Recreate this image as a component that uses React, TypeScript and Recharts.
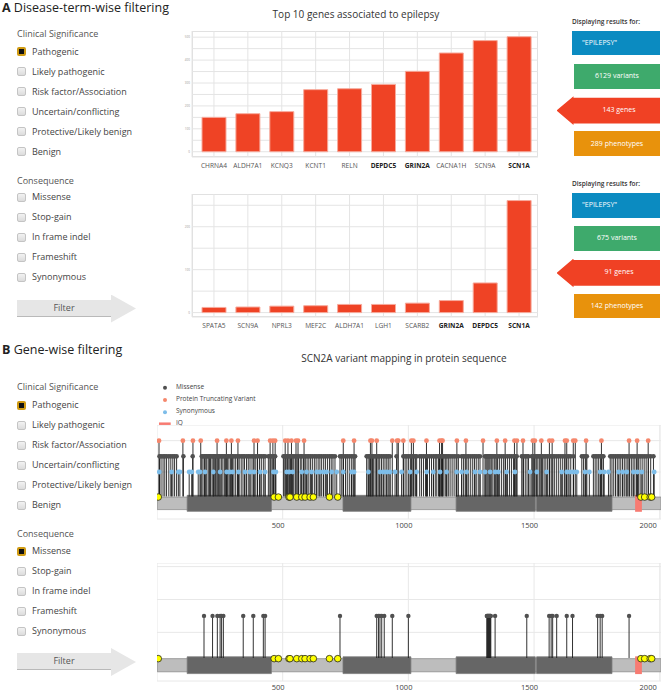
import React from 'react';
import {
  BarChart,
  Bar,
  ComposedChart,
  Scatter,
  ErrorBar,
  XAxis,
  YAxis,
  CartesianGrid,
  ReferenceArea,
} from 'recharts';

const FONT = '"Open Sans", "Noto Sans", sans-serif';

// ---- panel A: genes ----
const topGenes = ['CHRNA4', 'ALDH7A1', 'KCNQ3', 'KCNT1', 'RELN', 'DEPDC5', 'GRIN2A', 'CACNA1H', 'SCN9A', 'SCN1A'];
const topGeneCounts = [150, 166, 175, 271, 275, 294, 351, 431, 485, 502];
const filteredGenes = ['SPATA5', 'SCN9A', 'NPRL3', 'MEF2C', 'ALDH7A1', 'LGH1', 'SCARB2', 'GRIN2A', 'DEPDC5', 'SCN1A'];
const filteredGeneCounts = [12, 13, 15, 16, 19, 19, 22, 28, 69, 261];
const highlightedGenes = ['DEPDC5', 'GRIN2A', 'SCN1A'];
const topCountTicks = [0, 50, 100, 150, 200, 250, 300, 350, 400, 450, 500];
const filteredCountTicks = [0, 50, 100, 150, 200, 250];

const searchTerm = '"EPILEPSY"';
const variantTotals = [6129, 675];
const geneTotals = [143, 91];
const phenotypeTotals = [289, 142];

const clinicalSignificance = ['Pathogenic', 'Likely pathogenic', 'Risk factor/Association', 'Uncertain/conflicting', 'Protective/Likely benign', 'Benign'];
const consequences = ['Missense', 'Stop-gain', 'In frame indel', 'Frameshift', 'Synonymous'];

// ---- panel B: SCN2A protein ----
const proteinLength = 2005;
const positionTicks = [500, 1000, 1500, 2000];
const domainStarts = [120, 740, 1190, 1510];
const domainEnds = [455, 1010, 1505, 1810];
const iqMotif = [1902, 1929];
const legendLabels = ['Missense', 'Protein Truncating Variant', 'Synonymous', 'IQ'];

const missenseSites = [
  10, 16, 24, 31, 38, 47, 55, 63, 70, 78, 105, 142,
  178, 183, 189, 194, 198, 204, 209, 213, 219, 224, 228, 233, 239, 245, 250, 256, 262, 268, 273, 280,
  286, 293, 300, 306, 313, 320, 327, 335, 342, 348, 356, 363, 370, 378, 385, 393, 400, 408, 415, 423, 430,
  443, 450, 457, 464, 470,
  503, 509, 514, 520, 526, 531, 538, 544, 550, 557, 563, 570, 576, 583, 590, 597, 604, 611, 618, 626,
  633, 641, 648, 655, 663, 670, 678, 686, 693, 700, 708,
  728, 735, 742, 750, 757, 765, 773, 780, 788,
  834, 840, 846, 851, 857, 862, 868, 874, 880, 886, 893, 900, 907, 914, 920, 927, 953,
  980, 987, 994, 1001, 1008, 1015, 1022, 1028, 1033,
  1045, 1052, 1060, 1068, 1076, 1084, 1092, 1100, 1107, 1113,
  1120, 1125, 1130, 1136, 1141, 1147, 1153, 1159, 1166, 1174, 1182, 1190, 1199,
  1212, 1219, 1226, 1233, 1240, 1248, 1256, 1263, 1270, 1278, 1285,
  1305, 1309, 1313, 1317, 1321, 1325, 1330, 1336, 1342, 1348, 1355, 1362, 1370, 1378, 1386, 1394, 1402,
  1410, 1418, 1425, 1431, 1451, 1458, 1465, 1472, 1478,
  1491, 1497, 1503, 1509, 1515, 1521, 1527, 1534, 1540, 1547, 1554, 1561, 1568, 1575, 1582, 1590, 1598,
  1606, 1614, 1622, 1630, 1638, 1646, 1657, 1690, 1697, 1704, 1710,
  1736, 1743, 1750, 1757, 1764, 1770, 1776,
  1803, 1810, 1817, 1824, 1831, 1838, 1845, 1852, 1859, 1866, 1873, 1880, 1887, 1894, 1901, 1908, 1915,
  1922, 1930, 1938, 1946, 1955, 1964, 1975,
];
const truncatingSites = [
  8, 103, 143, 174, 239, 276, 296, 322, 386, 400, 450, 461, 470, 510, 521, 535, 553, 561, 585, 741, 784,
  849, 855, 874, 936, 955, 960, 980, 1012, 1020, 1072, 1124, 1132, 1136, 1193, 1229, 1297, 1352, 1385,
  1422, 1432, 1456, 1495, 1503, 1529, 1561, 1572, 1623, 1630, 1656, 1664, 1707, 1768, 1878, 1910, 1954,
];
const synonymousSites = [
  9, 58, 85, 91, 128, 138, 164, 171, 191, 224, 251, 277, 290, 301, 324, 350, 370, 386, 410, 430, 463, 473,
  516, 526, 540, 576, 595, 615, 635, 648, 662, 675, 695, 715, 741, 774, 784, 841, 887, 900, 914, 927, 947,
  973, 1007, 1033, 1073, 1099, 1126, 1152, 1192, 1212, 1232, 1265, 1285, 1305, 1325, 1345, 1358, 1391,
  1424, 1484, 1511, 1550, 1610, 1630, 1643, 1657, 1670, 1703, 1720, 1763, 1779, 1796, 1836, 1853, 1869,
  1895, 1911, 1929, 1978,
];
const markedSites = [5, 466, 483, 525, 529, 556, 576, 589, 609, 622, 686, 719, 1925, 1940, 1962, 1968];
const filteredMissenseSites = [
  187, 221, 240, 251, 257, 264, 343, 383, 423, 430, 728, 874, 881, 887, 894, 904, 936, 1000,
  1312, 1314, 1316, 1318, 1320, 1322, 1324, 1326, 1328, 1345, 1471, 1560, 1568, 1574, 1590, 1630, 1653,
  1753, 1763, 1771, 1878,
];

const RED = '#ef4325';
const MISSENSE = '#505050';
const TRUNCATING = '#f5876c';
const SYNONYMOUS = '#7dbde9';
const IQ = '#f77b72';

// text placed by its visual centre
const Txt = ({ x, y, size = 9, color = '#444', weight = 400, center = false, children }: any) => (
  <div
    style={{
      position: 'absolute',
      left: x,
      top: y - size * 0.58,
      fontSize: size,
      lineHeight: `${size}px`,
      color,
      fontWeight: weight,
      whiteSpace: 'nowrap',
      transform: center ? 'translateX(-50%)' : undefined,
    }}
  >
    {children}
  </div>
);

const CheckBox = ({ y, checked }: { y: number; checked: boolean }) => (
  <div
    style={{
      position: 'absolute',
      left: 17,
      top: y - 4.5,
      width: 9,
      height: 9,
      boxSizing: 'border-box',
      borderRadius: 2,
      border: checked ? '2px solid #cf9a12' : '1px solid #c4c4c4',
      background: checked ? '#111' : 'linear-gradient(#f2f2f2, #dcdcdc)',
    }}
  />
);

const FilterPanel = ({ top, checked }: { top: number; checked: string[] }) => (
  <>
    <Txt x={17} y={top} color="#555">Clinical Significance</Txt>
    {clinicalSignificance.map((label, i) => (
      <React.Fragment key={label}>
        <CheckBox y={top + 17.6 + i * 20} checked={checked.includes(label)} />
        <Txt x={32} y={top + 17.6 + i * 20}>{label}</Txt>
      </React.Fragment>
    ))}
    <Txt x={17} y={top + 147} color="#555">Consequence</Txt>
    {consequences.map((label, i) => (
      <React.Fragment key={label}>
        <CheckBox y={top + 163.4 + i * 20} checked={checked.includes(label)} />
        <Txt x={32} y={top + 163.4 + i * 20}>{label}</Txt>
      </React.Fragment>
    ))}
    <div
      style={{
        position: 'absolute',
        left: 17,
        top: top + 265.5,
        width: 94,
        height: 17,
        background: '#e6e6e6',
        borderBottom: '1.5px solid #b9b9b9',
        boxSizing: 'border-box',
      }}
    />
    <div
      style={{
        position: 'absolute',
        left: 111,
        top: top + 260.3,
        width: 25,
        height: 28,
        background: '#e6e6e6',
        clipPath: 'polygon(0 0, 100% 50%, 0 100%)',
      }}
    />
    <Txt x={64} y={top + 273.8} color="#555" center>Filter</Txt>
  </>
);

const ResultBoxes = ({ top, idx }: { top: number; idx: number }) => (
  <>
    <Txt x={572} y={top} size={6.5} weight={600} color="#333">Displaying results for:</Txt>
    <div style={{ position: 'absolute', left: 572, top: top + 8, width: 88, height: 24.5, background: '#0b8bc1' }} />
    <Txt x={582} y={top + 20.2} size={7} color="#fff">{searchTerm}</Txt>
    <div style={{ position: 'absolute', left: 573.7, top: top + 41, width: 86.3, height: 25, background: '#3eaa6c' }} />
    <Txt x={617} y={top + 53.5} size={7} color="#fff" center>{variantTotals[idx]} variants</Txt>
    <div
      style={{
        position: 'absolute',
        left: 556.5,
        top: top + 73.6,
        width: 103.5,
        height: 28.6,
        background: '#f04124',
        clipPath: 'polygon(0 50%, 17px 0, 17px 1.4px, 100% 1.4px, 100% 27.2px, 17px 27.2px, 17px 100%)',
      }}
    />
    <Txt x={619} y={top + 87.2} size={7} color="#fff" center>{geneTotals[idx]} genes</Txt>
    <div style={{ position: 'absolute', left: 573.7, top: top + 108.6, width: 86.3, height: 24.6, background: '#e8920c' }} />
    <Txt x={617} y={top + 121} size={7} color="#fff" center>{phenotypeTotals[idx]} phenotypes</Txt>
  </>
);

const GeneTick = ({ x, y, payload }: any) => (
  <text
    x={x}
    y={y + 11}
    textAnchor="middle"
    fontSize={6.6}
    fontFamily={FONT}
    fill={highlightedGenes.includes(payload.value) ? '#222' : '#555'}
    fontWeight={highlightedGenes.includes(payload.value) ? 700 : 400}
  >
    {payload.value}
  </text>
);

const CountTick = ({ x, y, payload }: any) =>
  payload.value % 100 === 0 ? (
    <text x={x - 2} y={y + 1} textAnchor="end" fontSize={3} fill="#999" fontFamily={FONT}>
      {payload.value}
    </text>
  ) : (
    <g />
  );

const GeneBarChart = ({ genes, counts, domain, ticks, height }: any) => {
  const data = genes.map((gene: string, i: number) => ({ gene, count: counts[i] }));
  return (
    <BarChart width={354} height={height} data={data} margin={{ top: 0, right: 0, bottom: 0, left: 0 }}>
      <CartesianGrid stroke="#e4e4e4" strokeWidth={1} />
      <XAxis
        dataKey="gene"
        axisLine={false}
        tickLine={false}
        tickSize={0}
        tickMargin={0}
        interval={0}
        height={18}
        padding={{ left: 5, right: 2 }}
        tick={<GeneTick />}
      />
      <YAxis
        type="number"
        domain={domain}
        ticks={ticks}
        interval={0}
        width={8}
        axisLine={false}
        tickLine={false}
        tickSize={0}
        tickMargin={0}
        allowDataOverflow
        tick={<CountTick />}
      />
      <Bar dataKey="count" fill={RED} stroke="#f7aa9c" strokeWidth={1} barSize={24} isAnimationActive={false} />
    </BarChart>
  );
};

const PositionTick = ({ x, y, payload }: any) => {
  const last = payload.value === 2000;
  return (
    <text
      x={last ? x - 3 : x - 4.5}
      y={y + 9}
      textAnchor={last ? 'end' : 'middle'}
      fontSize={7.5}
      fill="#444"
      fontFamily={FONT}
    >
      {payload.value}
    </text>
  );
};

const dot = (color: string, r: number) => (p: any) => <circle cx={p.cx} cy={p.cy} r={r} fill={color} />;
const markerDot = (p: any) => <circle cx={p.cx} cy={p.cy} r={3.3} fill="#ffff00" stroke="#222" strokeWidth={0.8} />;
const rows = (sites: number[], level: number) => sites.map((pos) => ({ pos, y: level, stem: [level - 0.22, 0] }));

const LollipopPlot = ({ height, axisHeight, domain, ticks, series }: any) => (
  <ComposedChart width={504} height={height} margin={{ top: 0, right: 0, bottom: 0, left: 0 }}>
    <CartesianGrid stroke="#e8e8e8" strokeWidth={1} />
    <XAxis
      type="number"
      dataKey="pos"
      domain={[0, proteinLength]}
      ticks={positionTicks}
      interval={0}
      axisLine={false}
      tickLine={false}
      tickSize={0}
      tickMargin={0}
      height={axisHeight}
      tick={<PositionTick />}
      allowDataOverflow
    />
    <YAxis type="number" dataKey="y" domain={domain} ticks={ticks} hide allowDataOverflow />
    <ReferenceArea x1={1} x2={proteinLength} y1={-0.2} y2={0.2} fill="#bdbdbd" fillOpacity={1} stroke="#8c8c8c" strokeWidth={0.8} />
    {domainStarts.map((s, i) => (
      <ReferenceArea key={s} x1={s} x2={domainEnds[i]} y1={-0.255} y2={0.255} fill="#666" fillOpacity={1} stroke="#7a7a7a" strokeWidth={0.8} />
    ))}
    <ReferenceArea x1={iqMotif[0]} x2={iqMotif[1]} y1={-0.27} y2={0.27} fill={IQ} fillOpacity={1} />
    {series.map((s: any) => (
      <Scatter key={s.name} name={s.name} data={rows(s.sites, s.level)} shape={dot(s.color, s.r)} isAnimationActive={false}>
        <ErrorBar dataKey="stem" direction="y" width={0} stroke="#1c1c1c" strokeWidth={1} strokeOpacity={0.9} />
      </Scatter>
    ))}
    <Scatter name="marked" data={markedSites.map((pos) => ({ pos, y: 0.2 }))} shape={markerDot} isAnimationActive={false} />
  </ComposedChart>
);

const Legend = () => (
  <>
    <svg style={{ position: 'absolute', left: 155, top: 382 }} width={20} height={46}>
      <circle cx={10} cy={5.7} r={2} fill={MISSENSE} />
      <circle cx={10} cy={18} r={2} fill={TRUNCATING} />
      <circle cx={10} cy={30.3} r={2} fill={SYNONYMOUS} />
      <line x1={4} x2={15.7} y1={41.7} y2={41.7} stroke={IQ} strokeWidth={2.5} />
    </svg>
    {legendLabels.map((label, i) => (
      <Txt key={label} x={176} y={387.7 + i * 12.1} size={6.5} color="#444">{label}</Txt>
    ))}
  </>
);

export default function App() {
  return (
    <div
      style={{
        position: 'absolute',
        left: 0,
        top: 0,
        width: 661,
        height: 692,
        overflow: 'hidden',
        background: '#fff',
        fontFamily: FONT,
      }}
    >
      {/* A */}
      <div style={{ position: 'absolute', left: 2, top: 0, fontSize: 12.5, lineHeight: '15px', color: '#222', whiteSpace: 'nowrap' }}>
        <b>A</b> Disease-term-wise filtering
      </div>
      <FilterPanel top={34.3} checked={['Pathogenic']} />
      <Txt x={356} y={15} size={10} color="#333" center>Top 10 genes associated to epilepsy</Txt>

      <div style={{ position: 'absolute', left: 192, top: 31, width: 346, height: 126, border: '1px solid #dedede', boxSizing: 'border-box' }} />
      <div style={{ position: 'absolute', left: 184, top: 31 }}>
        <GeneBarChart genes={topGenes} counts={topGeneCounts} domain={[-23, 527]} ticks={topCountTicks} height={144} />
      </div>
      <ResultBoxes top={22.7} idx={0} />

      <div style={{ position: 'absolute', left: 192, top: 194, width: 346, height: 123, border: '1px solid #dedede', boxSizing: 'border-box' }} />
      <div style={{ position: 'absolute', left: 184, top: 194 }}>
        <GeneBarChart genes={filteredGenes} counts={filteredGeneCounts} domain={[-10.3, 276.3]} ticks={filteredCountTicks} height={141} />
      </div>
      <ResultBoxes top={185} idx={1} />

      {/* B */}
      <div style={{ position: 'absolute', left: 2, top: 341.5, fontSize: 12.5, lineHeight: '15px', color: '#222', whiteSpace: 'nowrap' }}>
        <b>B</b> Gene-wise filtering
      </div>
      <FilterPanel top={387.7} checked={['Pathogenic', 'Missense']} />
      <Txt x={404} y={359} size={10} color="#333" center>SCN2A variant mapping in protein sequence</Txt>
      <Legend />

      <div style={{ position: 'absolute', left: 157, top: 425 }}>
        <LollipopPlot
          height={108}
          axisHeight={14}
          domain={[-0.5, 2.5]}
          ticks={[0, 1, 2]}
          series={[
            { name: 'Protein Truncating Variant', sites: truncatingSites, level: 2, color: TRUNCATING, r: 2.4 },
            { name: 'Missense', sites: missenseSites, level: 1.5, color: MISSENSE, r: 2.3 },
            { name: 'Synonymous', sites: synonymousSites, level: 1, color: SYNONYMOUS, r: 2.4 },
          ]}
        />
      </div>
      <div style={{ position: 'absolute', left: 157, top: 563 }}>
        <LollipopPlot
          height={129}
          axisHeight={11}
          domain={[-0.48, 3.11]}
          ticks={[0, 1, 2, 3]}
          series={[{ name: 'Missense', sites: filteredMissenseSites, level: 1.5, color: MISSENSE, r: 2.2 }]}
        />
      </div>
    </div>
  );
}
